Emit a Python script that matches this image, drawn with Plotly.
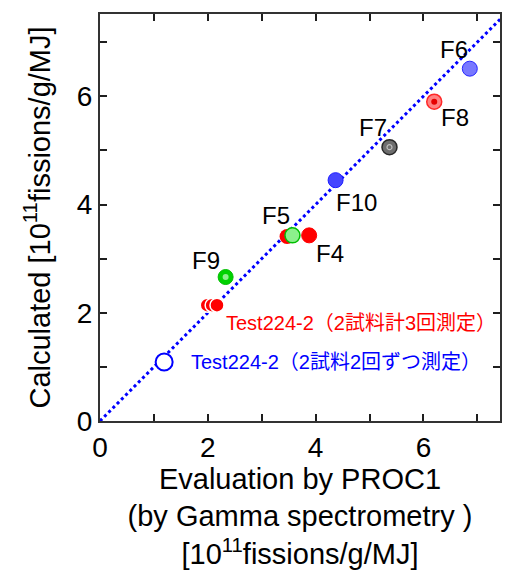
import plotly.graph_objects as go

# ---- data ----
labels = ["F4", "F5", "F6", "F7", "F8", "F9", "F10"]
eval_x = [3.88, 3.57, 6.86, 5.37, 6.20, 2.33, 4.37]
calc_y = [3.43, 3.43, 6.51, 5.06, 5.90, 2.66, 4.45]
label_dx = [0.38, -0.3, -0.3, -0.3, 0.38, -0.37, 0.38]
label_dy = [-0.34, 0.36, 0.36, 0.36, -0.3, 0.3, -0.42]

f5_red_x = [3.47]
f5_red_y = [3.41]

test3_x = [1.99, 2.08, 2.17]
test3_y = [2.14, 2.14, 2.14]
test2_x = [1.19]
test2_y = [1.09]

text_red = "Test224-2（2試料計3回測定）"
text_blue = "Test224-2（2試料2回ずつ測定）"

styles = {
    "F4": dict(color="rgb(255,0,0)", line=dict(color="rgb(255,0,0)", width=1)),
    "F5": dict(color="rgb(140,240,140)", line=dict(color="rgb(0,190,0)", width=1.5)),
    "F6": dict(color="rgb(120,120,255)", line=dict(color="rgb(40,40,255)", width=1)),
    "F7": dict(color="rgb(110,110,110)", line=dict(color="rgb(40,40,40)", width=1.5)),
    "F8": dict(color="rgb(255,130,130)", line=dict(color="rgb(255,40,40)", width=1.5)),
    "F9": dict(color="rgb(0,210,0)", line=dict(color="rgb(0,190,0)", width=1)),
    "F10": dict(color="rgb(70,70,255)", line=dict(color="rgb(30,30,255)", width=1)),
}
inner = {
    "F7": dict(color="rgba(0,0,0,0)", line=dict(color="rgb(190,190,190)", width=1.2), size=5),
    "F8": dict(color="rgb(230,0,0)", line=dict(width=0), size=6),
    "F9": dict(color="rgb(140,240,140)", line=dict(width=0), size=6),
}

FONT = "Liberation Sans, Arial, Helvetica"
JFONT = "Liberation Sans, Noto Sans CJK JP"

fig = go.Figure()

# diagonal y = x
fig.add_trace(go.Scatter(x=[0, 7.6], y=[0, 7.6], mode="lines",
                         line=dict(color="blue", width=3, dash="dot"),
                         hoverinfo="skip", showlegend=False))

# red points behind F5
fig.add_trace(go.Scatter(x=f5_red_x, y=f5_red_y, mode="markers",
                         marker=dict(size=15, color="red", line=dict(width=0)),
                         showlegend=False))

for i, lab in enumerate(labels):
    st = styles[lab]
    fig.add_trace(go.Scatter(x=[eval_x[i]], y=[calc_y[i]], mode="markers",
                             marker=dict(size=15, **st), showlegend=False))
    if lab in inner:
        fig.add_trace(go.Scatter(x=[eval_x[i]], y=[calc_y[i]], mode="markers",
                                 marker=inner[lab], showlegend=False))
    fig.add_annotation(x=eval_x[i] + label_dx[i], y=calc_y[i] + label_dy[i],
                       text=lab, showarrow=False, xref="x", yref="y",
                       font=dict(size=24, color="black", family=FONT))

# Test224-2 three measurements
fig.add_trace(go.Scatter(x=test3_x, y=test3_y, mode="markers",
                         marker=dict(size=14, color="red",
                                     line=dict(color="white", width=1.5)),
                         showlegend=False))
# Test224-2 two-each
fig.add_trace(go.Scatter(x=test2_x, y=test2_y, mode="markers",
                         marker=dict(size=17, color="white",
                                     line=dict(color="blue", width=2)),
                         showlegend=False))

fig.add_annotation(x=2.3, y=1.81, text=text_red, showarrow=False, xanchor="left",
                   font=dict(size=20, color="red", family=JFONT))
fig.add_annotation(x=1.65, y=1.09, text=text_blue, showarrow=False, xanchor="left",
                   font=dict(size=20, color="blue", family=JFONT))

axis_common = dict(
    showgrid=False, zeroline=False, showline=True, linecolor="rgb(50,50,50)", linewidth=2,
    mirror="ticks", ticks="inside", ticklen=7, tickwidth=1.5, tickcolor="rgb(30,30,30)",
    dtick=2, tick0=0,
    minor=dict(ticks="inside", ticklen=7, dtick=1, tickwidth=1.5, tickcolor="rgb(30,30,30)"),
    tickfont=dict(size=28, family=FONT, color="black"),
)

fig.update_xaxes(range=[0, 7.42], **axis_common,
                 title=dict(text="Evaluation by PROC1<br>(by Gamma spectrometry )<br>[10<sup>11</sup>fissions/g/MJ]",
                            font=dict(size=29, family=FONT, color="black"),
                            standoff=4))
fig.update_yaxes(range=[0, 7.52], **axis_common,
                 title=dict(text="Calculated [10<sup>11</sup>fissions/g/MJ]",
                            font=dict(size=29, family=FONT, color="black"),
                            standoff=18))

fig.update_layout(width=505, height=577, margin=dict(l=100, r=3, t=14, b=156),
                  plot_bgcolor="white", paper_bgcolor="white")

fig.write_html("out.html")
